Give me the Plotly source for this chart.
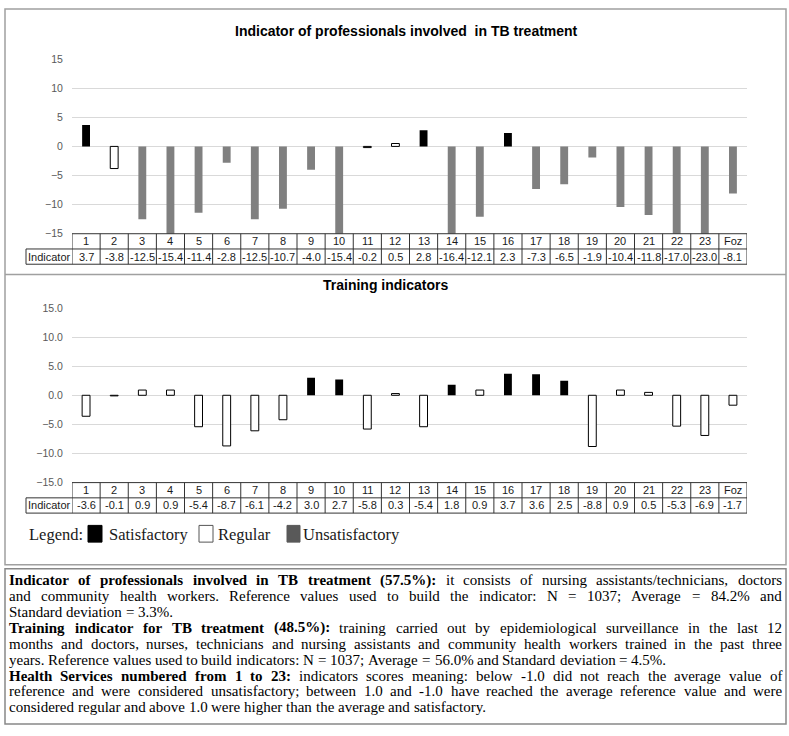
import plotly.graph_objects as go

# ---------------- DATA ----------------
services = [str(i) for i in range(1, 24)] + ["Foz"]

prof_values = [3.7, -3.8, -12.5, -15.4, -11.4, -2.8, -12.5, -10.7, -4.0, -15.4, -0.2, 0.5,
               2.8, -16.4, -12.1, 2.3, -7.3, -6.5, -1.9, -10.4, -11.8, -17.0, -23.0, -8.1]
prof_status = ["S", "R", "U", "U", "U", "U", "U", "U", "U", "U", "R", "R",
               "S", "U", "U", "S", "U", "U", "U", "U", "U", "U", "U", "U"]

train_values = [-3.6, -0.1, 0.9, 0.9, -5.4, -8.7, -6.1, -4.2, 3.0, 2.7, -5.8, 0.3,
                -5.4, 1.8, 0.9, 3.7, 3.6, 2.5, -8.8, 0.9, 0.5, -5.3, -6.9, -1.7]
train_status = ["R", "R", "R", "R", "R", "R", "R", "R", "S", "S", "R", "R",
                "R", "S", "R", "S", "S", "S", "R", "R", "R", "R", "R", "R"]

y_ticks = [15, 10, 5, 0, -5, -10, -15]

title_prof = "Indicator of professionals involved\u00a0 in TB treatment"
title_train = "Training indicators"
row_label = "Indicator"

legend_title = "Legend:"
legend_labels = ["Satisfactory", "Regular", "Unsatisfactory"]

note_lines = [
    ([("Indicator of professionals involved in TB treatment (57.5%):", True),
      ("it consists of nursing assistants/technicians, doctors", False)], True),
    ([("and community health workers. Reference values used to build the indicator: N = 1037; Average = 84.2% and", False)], True),
    ([("Standard deviation = 3.3%.", False)], False),
    ([("Training indicator for TB treatment (48.5%):", True),
      ("training carried out by epidemiological surveillance in the last 12", False)], True),
    ([("months and doctors, nurses, technicians and nursing assistants and community health workers trained in the past three", False)], True),
    ([("years. Reference values used to build indicators: N = 1037; Average = 56.0% and Standard deviation = 4.5%.", False)], False),
    ([("Health Services numbered from 1 to 23:", True),
      ("indicators scores meaning: below -1.0 did not reach the average value of", False)], True),
    ([("reference and were considered unsatisfactory; between 1.0 and -1.0 have reached the average reference value and were", False)], True),
    ([("considered regular and above 1.0 were higher than the average and satisfactory.", False)], False),
]

# ---------------- STYLE ----------------
W, H = 789, 736
SANS = "Liberation Sans, Arial, sans-serif"
SERIF = "Liberation Serif, Times New Roman, serif"
fill_map = {"S": "#000000", "R": "#ffffff", "U": "#808080"}
line_w_map = {"S": 0, "R": 1, "U": 0}
legend_fill = ["#000000", "#ffffff", "#595959"]


def px_x(p):
    return p / W


def px_y(p):
    return 1 - p / H


X0, X1 = 72, 747
charts = [
    dict(vals=prof_values, stat=prof_status, top=54, bot=231.5, fmt=None,
         title=title_prof, tx=406.5, ty=25.5, r1=(231.5, 247), r2=(247, 262.5)),
    dict(vals=train_values, stat=train_status, top=307, bot=484.5, fmt=".1f",
         title=title_train, tx=385, ty=284, r1=(484.5, 500), r2=(500, 515.5)),
]

fig = go.Figure()
shapes = []
annotations = []
ind_left = (26 - X0) / (X1 - X0)
TBL_FONT = dict(family=SANS, size=11, color="#1a1a1a")

for i, c in enumerate(charts):
    xa = "x" if i == 0 else "x2"
    ya = "y" if i == 0 else "y2"
    fig.add_trace(go.Bar(
        x=services, y=c["vals"], xaxis=xa, yaxis=ya, width=0.28,
        marker=dict(color=[fill_map[s] for s in c["stat"]],
                    line=dict(color="#000000", width=[line_w_map[s] for s in c["stat"]])),
        showlegend=False, hoverinfo="x+y"))
    xkey = "xaxis" if i == 0 else "xaxis2"
    ykey = "yaxis" if i == 0 else "yaxis2"
    fig.update_layout(**{
        xkey: dict(domain=[px_x(X0), px_x(X1)], anchor=ya, type="category",
                   range=[-0.5, len(services) - 0.5], showgrid=False, zeroline=False,
                   showline=False, showticklabels=False, ticks=""),
        ykey: dict(domain=[px_y(c["bot"]), px_y(c["top"])], anchor=xa, range=[-15, 15],
                   tickvals=y_ticks, tickformat=c["fmt"], showgrid=True,
                   gridcolor="#d9d9d9", gridwidth=1, zeroline=False, showline=False,
                   ticks="outside", ticklen=6, tickcolor="rgba(0,0,0,0)",
                   tickfont=dict(family=SANS, size=10.5, color="#595959")),
    })
    xd = xa + " domain"
    # title
    annotations.append(dict(xref="paper", yref="paper", x=px_x(c["tx"]), y=px_y(c["ty"]),
                            xanchor="center", yanchor="middle",
                            text="<b>%s</b>" % c["title"], showarrow=False,
                            font=dict(family=SANS, size=14, color="#000000")))
    # table lines
    lc = "#333333"
    r1t, r1b = c["r1"]
    r2t, r2b = c["r2"]
    shapes.append(dict(type="line", xref=xd, yref="paper", x0=0, x1=1,
                       y0=px_y(r1t), y1=px_y(r1t), line=dict(color=lc, width=1)))
    for yy in (r2t, r2b):
        shapes.append(dict(type="line", xref=xd, yref="paper", x0=ind_left, x1=1,
                           y0=px_y(yy), y1=px_y(yy), line=dict(color=lc, width=1)))
    shapes.append(dict(type="line", xref=xd, yref="paper", x0=ind_left, x1=ind_left,
                       y0=px_y(r2t), y1=px_y(r2b), line=dict(color=lc, width=1)))
    for k in range(len(services) + 1):
        shapes.append(dict(type="line", xref=xa, yref="paper", x0=k - 0.5, x1=k - 0.5,
                           y0=px_y(r1t), y1=px_y(r2b), line=dict(color=lc, width=1)))
    for k, (s, v) in enumerate(zip(services, c["vals"])):
        annotations.append(dict(xref=xa, yref="paper", x=k, y=px_y((r1t + r1b) / 2),
                                xanchor="center", yanchor="middle",
                                text=s, showarrow=False, borderpad=0, font=TBL_FONT))
        annotations.append(dict(xref=xa, yref="paper", x=k, y=px_y((r2t + r2b) / 2),
                                xanchor="center", yanchor="middle",
                                text="%.1f" % v, showarrow=False, borderpad=0, font=TBL_FONT))
    annotations.append(dict(xref=xd, yref="paper", x=ind_left / 2, y=px_y((r2t + r2b) / 2),
                            xanchor="center", yanchor="middle",
                            text=row_label, showarrow=False, borderpad=0, font=TBL_FONT))

# outer chart frame and divider
frame_c = "#a0a0a0"
shapes.append(dict(type="rect", xref="paper", yref="paper", x0=px_x(5), x1=px_x(786),
                   y0=px_y(568), y1=px_y(3), line=dict(color=frame_c, width=1.5)))
shapes.append(dict(type="line", xref="paper", yref="paper", x0=px_x(5), x1=px_x(786),
                   y0=px_y(273), y1=px_y(273), line=dict(color=frame_c, width=1.5)))

# custom legend
LY = 537
annotations.append(dict(xref="paper", yref="paper", x=px_x(28), y=px_y(LY), xanchor="left",
                        yanchor="middle", text=legend_title, showarrow=False, borderpad=0,
                        font=dict(family=SERIF, size=16.5, color="#1a1a1a")))
leg_rects = [(88, 102), (199, 213), (287, 300)]
leg_text_x = [108, 217, 302]
for (a, b), fc, lab, tx in zip(leg_rects, legend_fill, legend_labels, leg_text_x):
    shapes.append(dict(type="rect", xref="paper", yref="paper", x0=px_x(a), x1=px_x(b),
                       y0=px_y(545), y1=px_y(528), fillcolor=fc,
                       line=dict(color="#555555" if fc == "#ffffff" else fc, width=1)))
    annotations.append(dict(xref="paper", yref="paper", x=px_x(tx), y=px_y(LY), xanchor="left",
                            yanchor="middle", text=lab, showarrow=False, borderpad=0,
                            font=dict(family=SERIF, size=16.5, color="#1a1a1a")))

# note box
shapes.append(dict(type="rect", xref="paper", yref="paper", x0=px_x(5), x1=px_x(786),
                   y0=px_y(730), y1=px_y(572), line=dict(color="#888888", width=1.5)))

REG = {' ': 250, '!': 333, '%': 833, '(': 333, ')': 333, ',': 250, '-': 333, '.': 250, '/': 278,
       ':': 278, ';': 278, '=': 564, 'A': 722, 'B': 667, 'C': 667, 'D': 722, 'E': 611, 'F': 556,
       'G': 722, 'H': 722, 'I': 333, 'J': 389, 'K': 722, 'L': 611, 'M': 889, 'N': 722, 'O': 722,
       'P': 556, 'Q': 722, 'R': 667, 'S': 556, 'T': 611, 'U': 722, 'V': 722, 'W': 944, 'X': 722,
       'Y': 722, 'Z': 611, 'a': 444, 'b': 500, 'c': 444, 'd': 500, 'e': 444, 'f': 333, 'g': 500,
       'h': 500, 'i': 278, 'j': 278, 'k': 500, 'l': 278, 'm': 778, 'n': 500, 'o': 500, 'p': 500,
       'q': 500, 'r': 333, 's': 389, 't': 278, 'u': 500, 'v': 500, 'w': 722, 'x': 500, 'y': 500,
       'z': 444}
BOLD = dict(REG)
BOLD.update({'%': 1000, ':': 333, 'C': 722, 'E': 667, 'F': 611, 'G': 778, 'H': 778, 'I': 389,
             'S': 556, 'T': 667, 'B': 667, 'a': 500, 'b': 556, 'd': 556, 'h': 556, 'k': 556,
             'm': 833, 'n': 556, 'p': 556, 'r': 444, 's': 389, 't': 333, 'u': 556, 'v': 500})

FS = 15
TL, TR = 9, 782
LINE0, LSTEP = 584, 16.1


def wwidth(word, bold):
    tab = BOLD if bold else REG
    return sum(tab.get(ch, 500) for ch in word) / 1000 * FS


for li, (segs, justify) in enumerate(note_lines):
    words = []
    for txt, b in segs:
        for w in txt.split(" "):
            if w:
                words.append((w, b))
    widths = [wwidth(w, b) for w, b in words]
    if justify and len(words) > 1:
        gap = (TR - TL - sum(widths)) / (len(words) - 1)
    else:
        gap = 0.25 * FS
    x = TL
    yy = px_y(LINE0 + li * LSTEP)
    for (w, b), wd in zip(words, widths):
        annotations.append(dict(xref="paper", yref="paper", x=px_x(x), y=yy, xanchor="left",
                                yanchor="middle", text=("<b>%s</b>" % w) if b else w,
                                showarrow=False, borderpad=0, borderwidth=0,
                                font=dict(family=SERIF, size=FS, color="#000000")))
        x += wd + gap

fig.update_layout(width=W, height=H, margin=dict(l=0, r=0, t=0, b=0), autosize=False,
                  paper_bgcolor="#ffffff", plot_bgcolor="#ffffff", barmode="overlay",
                  shapes=shapes, annotations=annotations, showlegend=False)

fig.write_html("out.html", config={"displayModeBar": False},
               post_script="document.body.style.margin='0';document.body.style.padding='0';")
